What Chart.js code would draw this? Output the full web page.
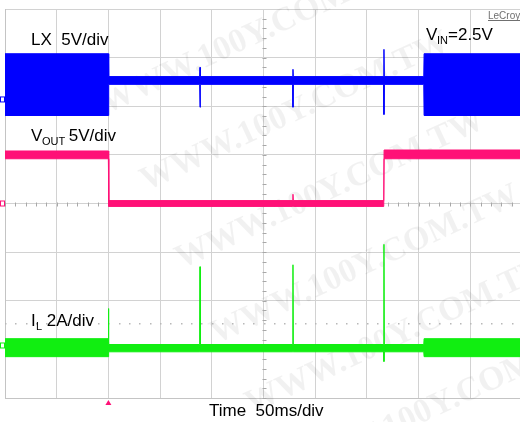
<!DOCTYPE html>
<html>
<head>
<meta charset="utf-8">
<script src="https://cdn.jsdelivr.net/npm/chart.js@4"></script>
<style>
  html, body { margin: 0; padding: 0; background: #fff; overflow: hidden; }
  #wrap { width: 524px; height: 422px; }
</style>
</head>
<body>
<div id="wrap"><canvas id="chart" width="524" height="422"></canvas></div>
<script>
// time in ms (50 ms/div, 10 div), levels in screen divisions (0 = centre line)
const lxTime = [0, 100, 100.3, 188.3, 188.6, 188.9, 278.2, 278.5, 278.8, 366.2, 366.5, 366.8, 405, 405.3, 500];
const lxUpper = [3.08, 3.08, 2.61, 2.61, 2.80, 2.61, 2.61, 2.76, 2.61, 2.61, 3.17, 2.61, 2.61, 3.08, 3.08];
const lxLower = [1.81, 1.81, 2.45, 2.45, 1.98, 2.45, 2.45, 1.98, 2.45, 2.45, 1.83, 2.45, 2.45, 1.81, 1.81];

const voutTime = [0, 100, 100.3, 278.2, 278.5, 278.8, 366.3, 366.6, 500];
const voutUpper = [1.08, 1.08, 0.06, 0.06, 0.19, 0.06, 0.06, 1.10, 1.10];
const voutLower = [0.92, 0.92, -0.06, -0.06, -0.06, -0.06, -0.06, 0.92, 0.92];

const ilTime = [0, 100, 100.15, 100.3, 188.3, 188.6, 188.9, 278.2, 278.5, 278.8, 366.2, 366.5, 366.8, 405, 405.3, 500];
const ilUpper = [-2.78, -2.78, -2.16, -2.90, -2.90, -1.30, -2.90, -2.90, -1.26, -2.90, -2.90, -0.84, -2.90, -2.90, -2.78, -2.78];
const ilLower = [-3.15, -3.15, -3.05, -3.05, -3.05, -3.05, -3.05, -3.05, -3.05, -3.05, -3.05, -3.25, -3.05, -3.05, -3.15, -3.15];

const triggerLevel = -2.45;
const triggerTime = 100;
const channelMarks = [2.14, 0, -2.92];
const channelColors = ["#0000ff", "#ff1177", "#11ee11"];

const watermark = "WWW.100Y.COM.TW";
const font = "'Liberation Sans', Arial, sans-serif";

function pts(times, values) {
  return times.map((t, i) => ({ x: t, y: values[i] }));
}

function band(times, upper, lower, color) {
  return [
    { data: pts(times, upper), borderColor: color, borderWidth: 1, pointRadius: 0, fill: false },
    { data: pts(times, lower), borderColor: color, borderWidth: 1, pointRadius: 0, fill: "-1", backgroundColor: color },
  ];
}

const scopePlugin = {
  id: "scope",
  beforeDatasetsDraw(chart) {
    const { ctx, scales: { x, y } } = chart;
    ctx.save();
    // watermark
    ctx.fillStyle = "rgba(0,0,0,0.055)";
    ctx.font = "bold 34px 'Liberation Serif', serif";
    ctx.textAlign = "center";
    ctx.textBaseline = "middle";
    [[255, 35], [295, 112], [330, 190], [365, 265], [400, 335], [440, 405]].forEach(([cx, cy]) => {
      ctx.save();
      ctx.translate(cx, cy);
      ctx.rotate(-25 * Math.PI / 180);
      ctx.fillText(watermark, 0, 0);
      ctx.restore();
    });

    // minor ticks on the centre lines
    ctx.strokeStyle = "#a8a8a8";
    ctx.lineWidth = 1;
    ctx.beginPath();
    const cx = Math.round(x.getPixelForValue(250)) + 0.5;
    const cy = Math.round(y.getPixelForValue(0)) + 0.5;
    for (let d = -4; d <= 4; d += 0.2) {
      const py = Math.round(y.getPixelForValue(d)) + 0.5;
      ctx.moveTo(cx - 2, py);
      ctx.lineTo(cx + 2, py);
    }
    for (let t = 0; t <= 500; t += 10) {
      const px = Math.round(x.getPixelForValue(t)) + 0.5;
      ctx.moveTo(px, cy - 2);
      ctx.lineTo(px, cy + 2);
    }
    ctx.stroke();

    // trigger level dotted line
    ctx.fillStyle = "#b8b8b8";
    const ty = Math.round(y.getPixelForValue(triggerLevel));
    for (let t = 0; t <= 500; t += 10) {
      ctx.fillRect(Math.round(x.getPixelForValue(t)), ty, 1.5, 1.5);
    }
    ctx.restore();
  },
  afterDraw(chart) {
    const { ctx, scales: { x, y } } = chart;
    ctx.save();
    ctx.fillStyle = "#000";
    ctx.textBaseline = "alphabetic";
    ctx.textAlign = "left";

    ctx.font = "17px " + font;
    ctx.fillText("LX  5V/div", 31, 45);

    ctx.fillText("V", 31, 141);
    ctx.font = "11px " + font;
    ctx.fillText("OUT", 42, 145);
    ctx.font = "17px " + font;
    ctx.fillText(" 5V/div", 64, 141);

    ctx.fillText("V", 426, 40);
    ctx.font = "11px " + font;
    ctx.fillText("IN", 437, 44);
    ctx.font = "17px " + font;
    ctx.fillText("=2.5V", 448, 40);

    ctx.fillText("I", 31, 326);
    ctx.font = "11px " + font;
    ctx.fillText("L", 36, 330);
    ctx.font = "17px " + font;
    ctx.fillText(" 2A/div", 42, 326);

    ctx.fillText("Time  50ms/div", 209, 416);

    ctx.fillStyle = "#707070";
    ctx.font = "10px " + font;
    ctx.fillText("LeCroy", 488, 19);
    ctx.fillRect(488, 20, 34, 1);

    // trigger position marker
    const tx = x.getPixelForValue(triggerTime);
    ctx.fillStyle = "#ff1177";
    ctx.beginPath();
    ctx.moveTo(tx - 3, 405);
    ctx.lineTo(tx + 3, 405);
    ctx.lineTo(tx, 400);
    ctx.closePath();
    ctx.fill();

    // channel ground markers
    channelMarks.forEach((d, i) => {
      const py = y.getPixelForValue(d);
      ctx.strokeStyle = channelColors[i];
      ctx.strokeRect(0.5, py - 2.5, 4, 5);
    });
    ctx.restore();
  },
};

new Chart(document.getElementById("chart").getContext("2d"), {
  type: "line",
  data: {
    datasets: [
      ...band(ilTime, ilUpper, ilLower, channelColors[2]),
      ...band(voutTime, voutUpper, voutLower, channelColors[1]),
      ...band(lxTime, lxUpper, lxLower, channelColors[0]),
    ],
  },
  options: {
    responsive: false,
    animation: false,
    layout: { padding: { left: 5, top: 9, right: 2, bottom: 24 } },
    plugins: { legend: { display: false }, tooltip: { enabled: false } },
    elements: { line: { tension: 0 } },
    scales: {
      x: {
        type: "linear",
        min: 0,
        max: 500,
        ticks: { display: false, stepSize: 50 },
        grid: { color: "#d2d2d2", drawTicks: false },
        border: { color: "#c4c4c4" },
      },
      y: {
        min: -4,
        max: 4,
        ticks: { display: false, stepSize: 1 },
        grid: { color: "#d2d2d2", drawTicks: false },
        border: { color: "#c4c4c4" },
      },
    },
  },
  plugins: [scopePlugin],
});
</script>
</body>
</html>
